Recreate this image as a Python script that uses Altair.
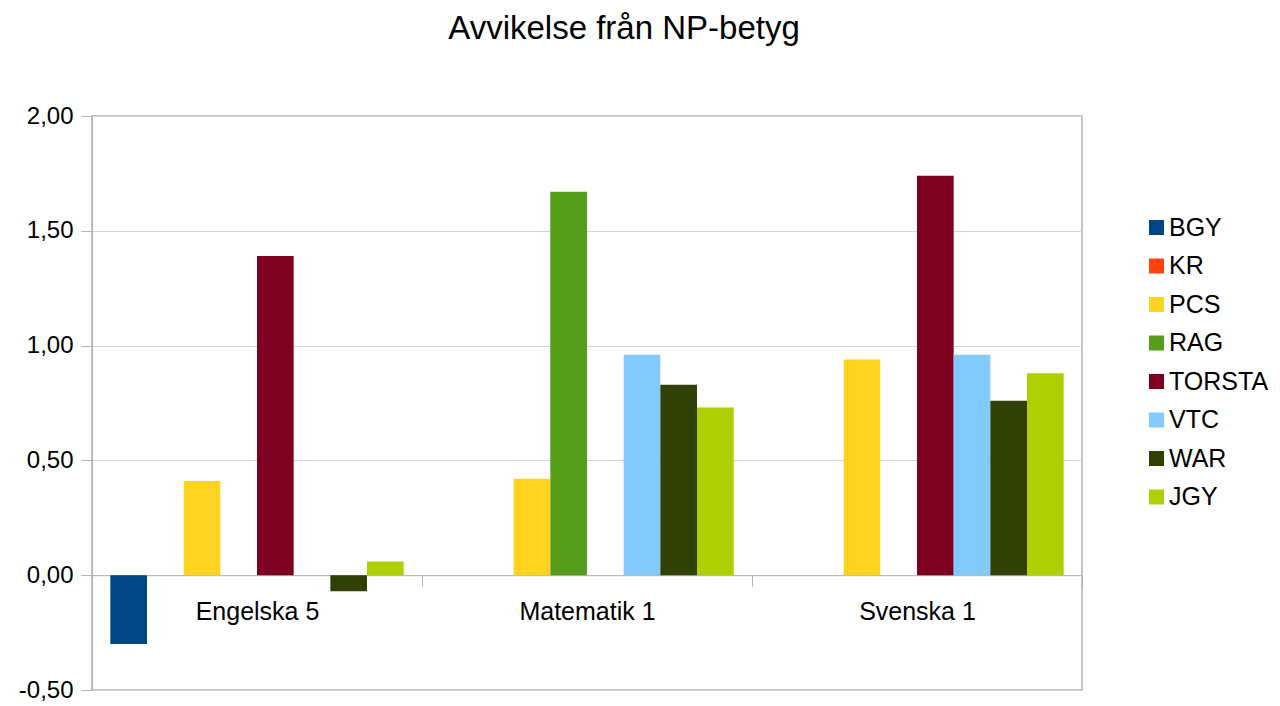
import altair as alt
import pandas as pd

subjects = ["Engelska 5", "Matematik 1", "Svenska 1"]
schools = ["BGY", "KR", "PCS", "RAG", "TORSTA", "VTC", "WAR", "JGY"]
colors = ["#004586", "#ff420e", "#ffd320", "#579d1c", "#7e0021", "#83caff", "#314004", "#aecf00"]
engelska = [-0.30, None, 0.41, None, 1.39, None, -0.07, 0.06]
matematik = [None, None, 0.42, 1.67, None, 0.96, 0.83, 0.73]
svenska = [None, None, 0.94, None, 1.74, 0.96, 0.76, 0.88]
y_ticks = [-0.5, 0.0, 0.5, 1.0, 1.5, 2.0]

rows = []
for subj, vals in zip(subjects, [engelska, matematik, svenska]):
    for sch, v in zip(schools, vals):
        if v is not None:
            rows.append({"Ämne": subj, "Skola": sch, "Avvikelse": v})
df = pd.DataFrame(rows)

W, H = 990, 574
FONT = "Liberation Sans"

chart = alt.Chart(df).mark_bar(strokeWidth=0).encode(
    x=alt.X("Ämne:N", sort=subjects,
            scale=alt.Scale(domain=subjects, paddingInner=0, paddingOuter=0),
            axis=alt.Axis(title=None, orient="bottom", offset=-0.2 * H,
                          domainColor="#b3b3b3", tickColor="#b3b3b3",
                          tickSize=11, tickBand="extent", labelAngle=0,
                          labelFontSize=25, labelFont=FONT, labelColor="black",
                          labelPadding=13, grid=False)),
    xOffset=alt.XOffset("Skola:N", sort=schools,
                        scale=alt.Scale(domain=schools, paddingInner=0, paddingOuter=0.5)),
    y=alt.Y("Avvikelse:Q",
            scale=alt.Scale(domain=[-0.5, 2.0], nice=False, zero=False),
            axis=alt.Axis(title=None, values=y_ticks,
                          labelExpr="replace(replace(format(datum.value, '.2f'), '.', ','), '\u2212', '-')",
                          domainColor="#b3b3b3", tickColor="#b3b3b3", tickSize=11,
                          gridColor="#d3d3d3", labelFontSize=24, labelFont=FONT,
                          labelColor="black", labelPadding=8)),
    color=alt.Color("Skola:N", sort=schools,
                    scale=alt.Scale(domain=schools, range=colors),
                    legend=alt.Legend(title=None, orient="none", legendX=1052, legendY=99,
                                      symbolType="square", symbolSize=225,
                                      symbolStrokeWidth=0, labelFontSize=25,
                                      labelFont=FONT, labelColor="black",
                                      rowPadding=12.5, labelOffset=0, padding=0)),
).properties(
    width=W, height=H,
    title=alt.TitleParams("Avvikelse från NP-betyg", fontSize=33, font=FONT,
                          fontWeight="normal", color="black", anchor="middle",
                          frame="group", dx=37, offset=58),
    autosize=alt.AutoSizeParams(type="none"),
    padding={"left": 84, "top": 108, "right": 190, "bottom": 20},
).configure_view(stroke="#b3b3b3", strokeWidth=1.5)

chart.save("out.html", embed_options={"renderer": "svg", "actions": False})
